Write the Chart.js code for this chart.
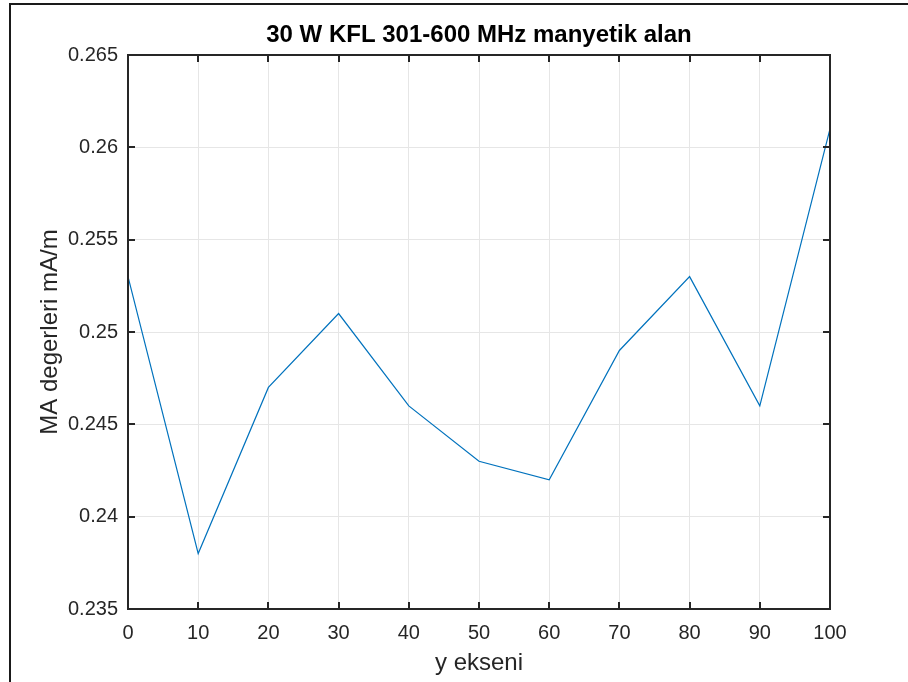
<!DOCTYPE html>
<html>
<head>
<meta charset="utf-8">
<script src="https://cdn.jsdelivr.net/npm/chart.js@4.4.1/dist/chart.umd.min.js"></script>
<style>
  html, body { margin: 0; padding: 0; background: #fff; }
  #wrap { position: relative; width: 908px; height: 682px; }
</style>
</head>
<body>
<div id="wrap"><canvas id="fieldChart" width="908" height="682"></canvas></div>
<script>
// measurement positions along the y axis and the field values read at each
const positions = [0, 10, 20, 30, 40, 50, 60, 70, 80, 90, 100];
const fieldValues = [0.253, 0.238, 0.247, 0.251, 0.246, 0.243, 0.242, 0.249, 0.253, 0.246, 0.261];

const xTicks = [0, 10, 20, 30, 40, 50, 60, 70, 80, 90, 100];
const yTicks = [0.235, 0.24, 0.245, 0.25, 0.255, 0.26, 0.265];
const yTickLabels = ['0.235', '0.24', '0.245', '0.25', '0.255', '0.26', '0.265'];

const AXIS = '#262626';
const FONT = '"Liberation Sans", Arial, Helvetica, sans-serif';

// box around the axes with inward tick marks, plus the outer figure frame
const matlabBox = {
  id: 'matlabBox',
  afterDraw(chart) {
    const { ctx, chartArea: a, scales } = chart;
    const tick = 7;
    ctx.save();
    ctx.strokeStyle = AXIS;
    ctx.lineWidth = 2;
    ctx.strokeRect(a.left, a.top, a.right - a.left, a.bottom - a.top);
    ctx.beginPath();
    xTicks.forEach(v => {
      const x = Math.round(scales.x.getPixelForValue(v));
      ctx.moveTo(x, a.bottom); ctx.lineTo(x, a.bottom - tick);
      ctx.moveTo(x, a.top); ctx.lineTo(x, a.top + tick);
    });
    yTicks.forEach(v => {
      const y = Math.round(scales.y.getPixelForValue(v));
      ctx.moveTo(a.left, y); ctx.lineTo(a.left + tick, y);
      ctx.moveTo(a.right, y); ctx.lineTo(a.right - tick, y);
    });
    ctx.stroke();

    ctx.strokeStyle = '#1a1a1a';
    ctx.beginPath();
    ctx.moveTo(10, chart.height);
    ctx.lineTo(10, 4);
    ctx.lineTo(chart.width, 4);
    ctx.stroke();
    ctx.restore();
  }
};

new Chart(document.getElementById('fieldChart'), {
  type: 'line',
  data: {
    datasets: [{
      data: positions.map((x, i) => ({ x, y: fieldValues[i] })),
      borderColor: '#0072BD',
      borderWidth: 1.2,
      pointRadius: 0,
      tension: 0,
      fill: false
    }]
  },
  options: {
    responsive: false,
    animation: false,
    layout: { padding: { left: 0, right: 78, top: 0, bottom: 0 } },
    plugins: {
      legend: { display: false },
      tooltip: { enabled: false },
      title: {
        display: true,
        fullSize: false,
        text: '30 W KFL 301-600 MHz manyetik alan',
        color: '#000',
        font: { family: FONT, size: 24, weight: 'bold' },
        padding: { top: 20.6, bottom: 5.6 }
      }
    },
    scales: {
      x: {
        type: 'linear',
        min: 0,
        max: 100,
        afterBuildTicks: s => { s.ticks = xTicks.map(v => ({ value: v })); },
        afterFit: s => { s.height = 73; },
        grid: { color: '#e6e6e6', lineWidth: 1, drawTicks: false },
        border: { display: false },
        ticks: {
          color: AXIS,
          padding: 12,
          maxRotation: 0,
          font: { family: FONT, size: 20 },
          callback: v => String(v)
        },
        title: {
          display: true,
          text: 'y ekseni',
          color: AXIS,
          font: { family: FONT, size: 24 },
          padding: { top: 0, bottom: 4 }
        }
      },
      y: {
        type: 'linear',
        min: 0.235,
        max: 0.265,
        afterBuildTicks: s => { s.ticks = yTicks.map(v => ({ value: v })); },
        afterFit: s => { s.width = 128; },
        grid: { color: '#e6e6e6', lineWidth: 1, drawTicks: false },
        border: { display: false },
        ticks: {
          color: AXIS,
          padding: 10,
          font: { family: FONT, size: 20 },
          callback: (v, i) => yTickLabels[i]
        },
        title: {
          display: true,
          text: 'MA degerleri mA/m',
          color: AXIS,
          font: { family: FONT, size: 24 },
          padding: { top: 36, bottom: 0 }
        }
      }
    }
  },
  plugins: [matlabBox]
});
</script>
</body>
</html>
